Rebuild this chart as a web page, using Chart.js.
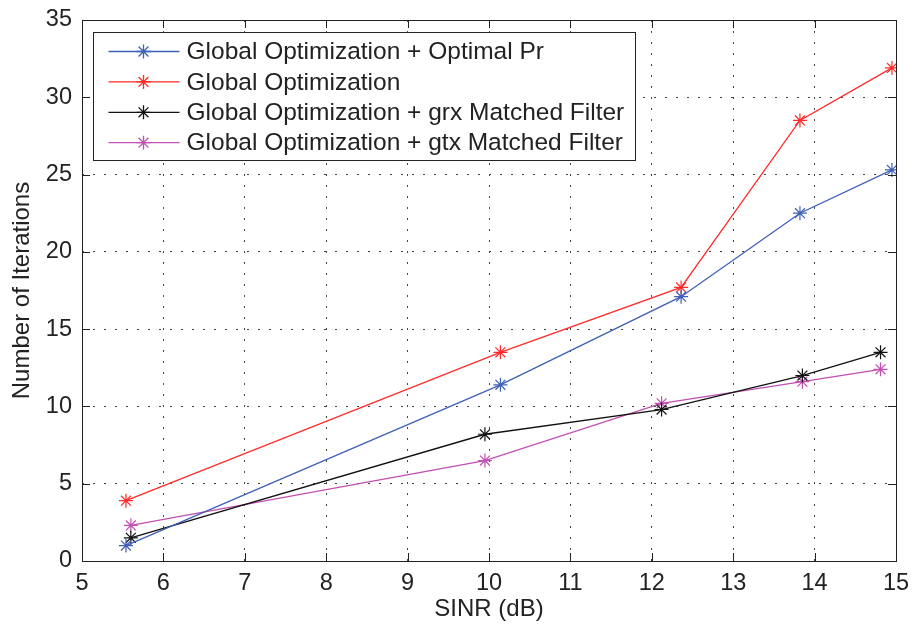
<!DOCTYPE html>
<html>
<head>
<meta charset="utf-8">
<script src="https://cdn.jsdelivr.net/npm/chart.js@4/dist/chart.umd.min.js"></script>
<style>
  html, body { margin: 0; padding: 0; background: #fff; }
  #wrap { width: 912px; height: 627px; }
</style>
</head>
<body>
<div id="wrap"><canvas id="chart"></canvas></div>
<script>
// series labels
const seriesNames = [
  'Global Optimization + Optimal Pr',
  'Global Optimization',
  'Global Optimization + grx Matched Filter',
  'Global Optimization + gtx Matched Filter'
];

// SINR (dB) values per series
const sinrOptimalPr = [5.54, 10.14, 12.36, 13.82, 14.95];
const sinrGlobal = [5.54, 10.14, 12.36, 13.82, 14.95];
const sinrGrx = [5.6, 9.95, 12.12, 13.85, 14.81];
const sinrGtx = [5.6, 9.95, 12.12, 13.85, 14.81];

// number of iterations per series
const itersOptimalPr = [1.0, 11.4, 17.1, 22.5, 25.3];
const itersGlobal = [3.9, 13.5, 17.7, 28.5, 31.9];
const itersGrx = [1.5, 8.2, 9.8, 12.0, 13.5];
const itersGtx = [2.3, 6.5, 10.2, 11.6, 12.4];

const seriesColors = ['#3f5fb8', '#ff2a2a', '#111111', '#c24fb2'];

const toPoints = (xs, ys) => xs.map((x, i) => ({ x: x, y: ys[i] }));

const FONT = "'Liberation Sans', Arial, Helvetica, sans-serif";

// draws the matlab-style box, inward ticks and the legend
const matlabFrame = {
  id: 'matlabFrame',
  afterDatasetsDraw(chart) {
    const ctx = chart.ctx;
    const area = chart.chartArea;
    const xs = chart.scales.x;
    const ys = chart.scales.y;
    const tickLen = 8;

    ctx.save();
    ctx.strokeStyle = '#222';
    ctx.lineWidth = 1;
    ctx.strokeRect(area.left + 0.5, area.top + 0.5, area.right - area.left, area.bottom - area.top);

    ctx.beginPath();
    xs.ticks.forEach(t => {
      const px = Math.round(xs.getPixelForValue(t.value)) + 0.5;
      ctx.moveTo(px, area.bottom);
      ctx.lineTo(px, area.bottom - tickLen);
      ctx.moveTo(px, area.top);
      ctx.lineTo(px, area.top + tickLen);
    });
    ys.ticks.forEach(t => {
      const py = Math.round(ys.getPixelForValue(t.value)) + 0.5;
      ctx.moveTo(area.left, py);
      ctx.lineTo(area.left + tickLen, py);
      ctx.moveTo(area.right, py);
      ctx.lineTo(area.right - tickLen, py);
    });
    ctx.stroke();

    // legend box
    const boxX = area.left + 11.5;
    const boxY = area.top + 12.5;
    const boxW = 542;
    const boxH = 128;
    ctx.fillStyle = '#fff';
    ctx.fillRect(boxX, boxY, boxW, boxH);
    ctx.strokeStyle = '#222';
    ctx.strokeRect(boxX, boxY, boxW, boxH);

    ctx.font = '24.5px ' + FONT;
    ctx.textBaseline = 'middle';
    ctx.textAlign = 'left';
    chart.data.datasets.forEach((ds, i) => {
      const rowY = boxY + 19 + i * 30.4;
      ctx.strokeStyle = ds.borderColor;
      ctx.lineWidth = 1.3;
      ctx.beginPath();
      ctx.moveTo(boxX + 15, rowY);
      ctx.lineTo(boxX + 86, rowY);
      ctx.stroke();
      Chart.helpers.drawPoint(ctx, {
        pointStyle: 'star',
        radius: 7,
        borderWidth: 1.2
      }, boxX + 50, rowY);
      ctx.fillStyle = '#222';
      ctx.fillText(ds.label, boxX + 93, rowY + 1);
    });
    ctx.restore();
  }
};

const datasets = [
  toPoints(sinrOptimalPr, itersOptimalPr),
  toPoints(sinrGlobal, itersGlobal),
  toPoints(sinrGrx, itersGrx),
  toPoints(sinrGtx, itersGtx)
].map((pts, i) => ({
  label: seriesNames[i],
  data: pts,
  showLine: true,
  borderColor: seriesColors[i],
  backgroundColor: seriesColors[i],
  borderWidth: 1.3,
  pointStyle: 'star',
  pointRadius: 7,
  pointBorderWidth: 1.2,
  pointBorderColor: seriesColors[i],
  tension: 0
}));

const ctx = document.getElementById('chart').getContext('2d');
new Chart(ctx, {
  type: 'scatter',
  data: { datasets: datasets },
  options: {
    responsive: true,
    maintainAspectRatio: false,
    animation: false,
    layout: { padding: { top: 20, right: 16, left: 0, bottom: 0 } },
    plugins: {
      legend: { display: false },
      tooltip: { enabled: false }
    },
    scales: {
      x: {
        type: 'linear',
        min: 5,
        max: 15,
        afterFit: s => {
          s.height = 66;
          s.paddingLeft = 0;
          s.paddingRight = 0;
        },
        ticks: {
          stepSize: 1,
          padding: 8,
          color: '#222',
          font: { family: FONT, size: 23.5 }
        },
        grid: {
          color: '#444',
          drawTicks: false
        },
        border: { display: false, dash: [2, 9] },
        title: {
          display: true,
          text: 'SINR (dB)',
          color: '#222',
          font: { family: FONT, size: 24, lineHeight: 1.2 },
          padding: { top: 0, bottom: 3 }
        }
      },
      y: {
        type: 'linear',
        min: 0,
        max: 35,
        afterFit: s => {
          s.width = 82;
          s.paddingTop = 0;
          s.paddingBottom = 0;
        },
        ticks: {
          stepSize: 5,
          padding: 10,
          color: '#222',
          font: { family: FONT, size: 23.5 }
        },
        grid: {
          color: '#444',
          drawTicks: false
        },
        border: { display: false, dash: [2, 9] },
        title: {
          display: true,
          text: 'Number of Iterations',
          color: '#222',
          font: { family: FONT, size: 24, lineHeight: 1.2 },
          padding: { top: 8, bottom: 0 }
        }
      }
    }
  },
  plugins: [matlabFrame]
});
</script>
</body>
</html>
